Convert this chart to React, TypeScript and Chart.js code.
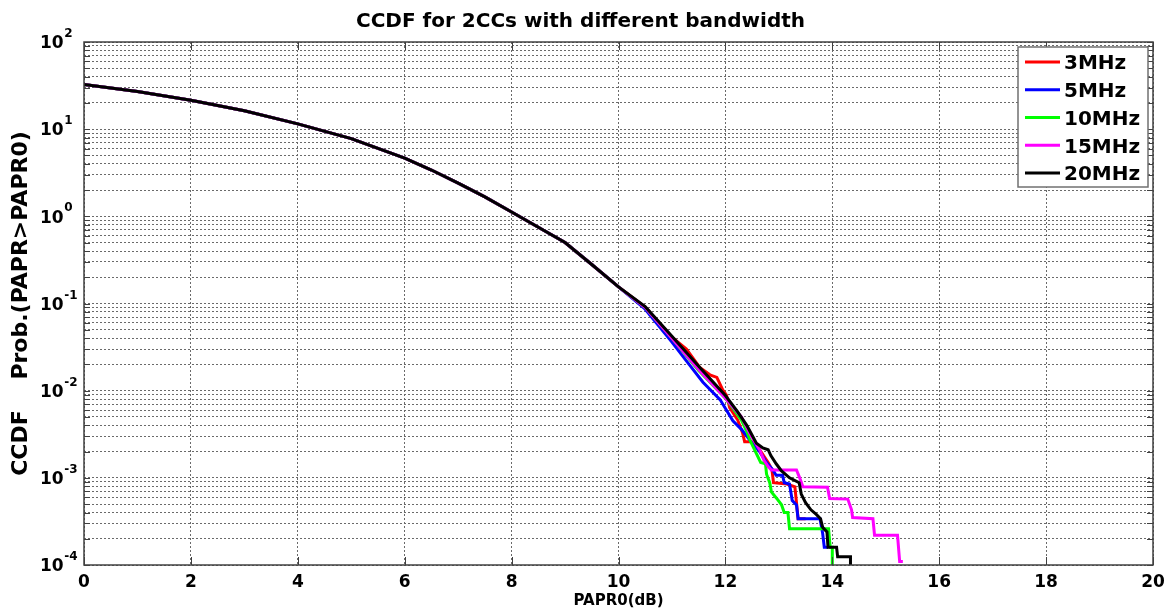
import React, { useEffect, useRef } from 'react';
import { Chart, registerables } from 'chart.js';

Chart.register(...registerables);

const chartTitle = 'CCDF for 2CCs with different bandwidth';
const xAxisTitle = 'PAPR0(dB)';
const yAxisTitle = 'CCDF    Prob.(PAPR>PAPR0)';

const seriesLabels = ['3MHz', '5MHz', '10MHz', '15MHz', '20MHz'];
const seriesColors = ['#ff0000', '#0000ff', '#00ff00', '#ff00ff', '#000000'];

// shared part of all curves (they coincide up to ~10 dB)
const headX = [0, 1, 2, 3, 4, 5, 6, 6.5, 7, 7.5, 8, 8.5, 9, 9.5, 10];
const headY = [32.5, 27, 21.5, 16.3, 11.5, 7.8, 4.65, 3.4, 2.4, 1.67, 1.12, 0.75, 0.5, 0.28, 0.155];

// tails of each curve
const x3MHz = [10.5, 11, 11.27, 11.52, 11.71, 11.84, 11.95, 12.02, 12.08, 12.23, 12.32, 12.36, 12.51, 12.64, 12.8, 12.87, 12.9, 13.15, 13.3, 13.36, 13.5];
const y3MHz = [0.091, 0.041, 0.03, 0.0185, 0.0152, 0.0142, 0.0102, 0.0089, 0.0064, 0.0046, 0.0033, 0.0026, 0.0026, 0.0021, 0.0015, 0.00125, 0.00088, 0.00085, 0.00079, 0.00034, 0.00034];

const x5MHz = [10.5, 11, 11.27, 11.58, 11.9, 12.14, 12.3, 12.5, 12.64, 12.77, 12.88, 12.95, 13.07, 13.1, 13.2, 13.25, 13.33, 13.36, 13.77, 13.82, 13.85, 13.92];
const y5MHz = [0.086, 0.036, 0.022, 0.0125, 0.0079, 0.0045, 0.0036, 0.0025, 0.002, 0.0015, 0.00125, 0.00107, 0.00107, 0.00088, 0.00085, 0.00055, 0.00049, 0.00034, 0.00034, 0.00023, 0.00016, 0.00016];

const x10MHz = [10.5, 11, 11.5, 12, 12.3, 12.4, 12.46, 12.58, 12.66, 12.75, 12.77, 12.83, 12.86, 12.96, 13.05, 13.1, 13.17, 13.2, 13.93, 13.96, 14.0, 14.0];
const y10MHz = [0.09, 0.04, 0.017, 0.0082, 0.0046, 0.0034, 0.0027, 0.0019, 0.0015, 0.00145, 0.0011, 0.00088, 0.00069, 0.00058, 0.00049, 0.0004, 0.0004, 0.00026, 0.00026, 0.00016, 0.00016, 0.0001];

const x15MHz = [10.5, 11, 11.5, 12, 12.3, 12.46, 12.6, 12.64, 12.72, 12.8, 12.86, 13.33, 13.39, 13.45, 13.91, 13.95, 14.29, 14.36, 14.38, 14.76, 14.79, 15.22, 15.26, 15.32];
const y15MHz = [0.09, 0.04, 0.0175, 0.0082, 0.005, 0.0032, 0.0023, 0.0021, 0.0016, 0.00135, 0.00123, 0.00123, 0.001, 0.00079, 0.00078, 0.00058, 0.00057, 0.00043, 0.00035, 0.00034, 0.00022, 0.00022, 0.00011, 0.00011];

const x20MHz = [10.5, 11, 11.5, 12, 12.23, 12.4, 12.58, 12.7, 12.8, 12.85, 12.95, 13.05, 13.2, 13.38, 13.42, 13.5, 13.6, 13.7, 13.78, 13.82, 13.9, 13.92, 14.08, 14.1, 14.34, 14.34];
const y20MHz = [0.092, 0.042, 0.019, 0.0088, 0.0057, 0.004, 0.0025, 0.0022, 0.0021, 0.0018, 0.00145, 0.0012, 0.001, 0.00088, 0.00065, 0.00052, 0.00043, 0.00038, 0.00034, 0.00027, 0.00024, 0.00016, 0.00016, 0.000124, 0.000124, 0.0001];

const tailX = [x3MHz, x5MHz, x10MHz, x15MHz, x20MHz];
const tailY = [y3MHz, y5MHz, y10MHz, y15MHz, y20MHz];

const xTickValues = [0, 2, 4, 6, 8, 10, 12, 14, 16, 18, 20];
const yDecades = [-4, -3, -2, -1, 0, 1, 2];
const yMinorFactors = [1, 2, 3, 4, 5, 6, 7, 8, 9];

const FONT = '"DejaVu Sans", Verdana, sans-serif';

function buildYTicks() {
  const out: { value: number }[] = [];
  yDecades.forEach((d, i) => {
    if (i === yDecades.length - 1) {
      out.push({ value: Math.pow(10, d) });
      return;
    }
    yMinorFactors.forEach((m) => {
      out.push({ value: Number((m * Math.pow(10, d)).toPrecision(3)) });
    });
  });
  return out;
}

const decorPlugin = {
  id: 'decor',
  afterDraw(chart: any) {
    const { ctx, chartArea: a, scales } = chart;
    const ys = scales.y;
    const xs = scales.x;
    ctx.save();
    ctx.setLineDash([]);
    // inner tick marks
    ctx.strokeStyle = '#404040';
    ctx.lineWidth = 1;
    ctx.beginPath();
    for (const t of ys.ticks) {
      const py = Math.round(ys.getPixelForValue(t.value)) + 0.5;
      ctx.moveTo(a.left, py);
      ctx.lineTo(a.left + 6, py);
      ctx.moveTo(a.right, py);
      ctx.lineTo(a.right - 6, py);
    }
    for (const t of xs.ticks) {
      const px = Math.round(xs.getPixelForValue(t.value)) + 0.5;
      ctx.moveTo(px, a.bottom);
      ctx.lineTo(px, a.bottom - 8);
      ctx.moveTo(px, a.top);
      ctx.lineTo(px, a.top + 8);
    }
    ctx.stroke();
    // axes box
    ctx.lineWidth = 1.5;
    ctx.strokeStyle = '#404040';
    ctx.strokeRect(a.left, a.top, a.right - a.left, a.bottom - a.top);

    // title
    ctx.fillStyle = '#000';
    ctx.font = 'bold 20px ' + FONT;
    ctx.textAlign = 'center';
    ctx.textBaseline = 'alphabetic';
    ctx.fillText(chartTitle, (a.left + a.right) / 2 - 38, 27);

    // y tick labels 10^n
    ctx.textAlign = 'left';
    for (const d of yDecades) {
      const py = ys.getPixelForValue(Math.pow(10, d));
      ctx.font = 'bold 17px ' + FONT;
      const base = '10';
      const bx = a.left - 44;
      ctx.fillText(base, bx, py + 6.3);
      const w = ctx.measureText(base).width;
      ctx.font = 'bold 12px ' + FONT;
      ctx.fillText(String(d), bx + w + 0.5, py - 5);
    }

    // legend
    const lw = 130;
    const lh = 140;
    const lx = a.right - 5 - lw;
    const ly = a.top + 5;
    ctx.fillStyle = '#fff';
    ctx.fillRect(lx, ly, lw, lh);
    ctx.strokeStyle = '#707070';
    ctx.lineWidth = 1.5;
    ctx.strokeRect(lx, ly, lw, lh);
    ctx.font = 'bold 20px ' + FONT;
    chart.data.datasets.forEach((ds: any, i: number) => {
      const cy = ly + 15 + i * 27.75;
      ctx.strokeStyle = ds.borderColor;
      ctx.lineWidth = 3;
      ctx.beginPath();
      ctx.moveTo(lx + 7, cy);
      ctx.lineTo(lx + 42, cy);
      ctx.stroke();
      ctx.fillStyle = '#000';
      ctx.fillText(ds.label, lx + 46, cy + 7.3);
    });
    ctx.restore();
  },
};

export default function App() {
  const ref = useRef<HTMLCanvasElement | null>(null);
  useEffect(() => {
    if (!ref.current) return;
    const datasets = seriesLabels.map((label, i) => {
      const xs = headX.concat(tailX[i]);
      const ys = headY.concat(tailY[i]);
      return {
        label,
        data: xs.map((x, k) => ({ x, y: ys[k] })),
        borderColor: seriesColors[i],
        backgroundColor: seriesColors[i],
        borderWidth: 3,
        pointRadius: 0,
        tension: 0,
        fill: false,
        order: seriesLabels.length - 1 - i,
      };
    });
    const chart = new Chart(ref.current, {
      type: 'line',
      data: { datasets },
      plugins: [decorPlugin],
      options: {
        animation: false,
        responsive: false,
        devicePixelRatio: 1,
        layout: { padding: { top: 42, right: 19, left: 0, bottom: 0 } },
        plugins: {
          legend: { display: false },
          title: { display: false },
          tooltip: { enabled: false },
        },
        scales: {
          x: {
            type: 'linear',
            min: 0,
            max: 20,
            afterBuildTicks: (scale: any) => {
              scale.ticks = xTickValues.map((v) => ({ value: v }));
            },
            afterFit: (scale: any) => {
              scale.height = 47;
            },
            grid: { color: '#6a6a6a', lineWidth: 1, drawTicks: false },
            border: { display: false, dash: [2, 2] },
            ticks: {
              autoSkip: false,
              maxRotation: 0,
              padding: 7,
              color: '#000',
              font: { family: FONT, size: 17, weight: 'bold' },
            },
            title: {
              display: true,
              text: xAxisTitle,
              color: '#000',
              font: { family: FONT, size: 15, weight: 'bold', lineHeight: 1.2 },
              padding: { top: 0, bottom: 2 },
            },
          },
          y: {
            type: 'logarithmic',
            min: 1e-4,
            max: 100,
            afterBuildTicks: (scale: any) => {
              scale.ticks = buildYTicks();
            },
            afterFit: (scale: any) => {
              scale.width = 84;
            },
            grid: { color: '#6a6a6a', lineWidth: 1, drawTicks: false },
            border: { display: false, dash: [2, 2] },
            ticks: { display: false, autoSkip: false },
            title: {
              display: true,
              text: yAxisTitle,
              color: '#000',
              font: { family: FONT, size: 22, weight: 'bold', lineHeight: 1.2 },
              padding: { top: 8, bottom: 0 },
            },
          },
        },
      } as any,
    });
    return () => chart.destroy();
  }, []);
  return (
    <div style={{ position: 'fixed', left: 0, top: 0, width: 1172, height: 612, background: '#fff' }}>
      <canvas ref={ref} width={1172} height={612} style={{ width: 1172, height: 612, display: 'block' }} />
    </div>
  );
}
